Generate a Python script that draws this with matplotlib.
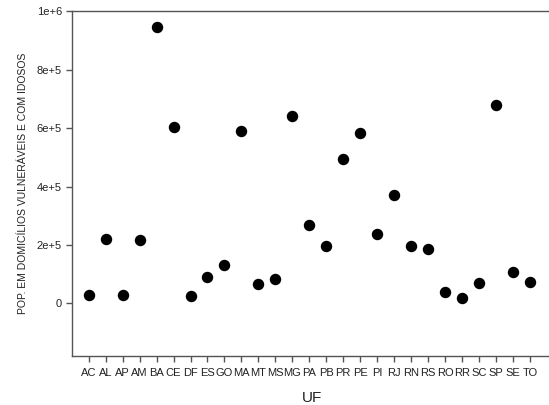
import matplotlib
matplotlib.use("Agg")
import matplotlib.pyplot as plt

plt.rcParams.update({"font.family": ["Liberation Sans", "DejaVu Sans"]})

ufs = ["AC", "AL", "AP", "AM", "BA", "CE", "DF", "ES", "GO", "MA", "MT", "MS", "MG", "PA",
       "PB", "PR", "PE", "PI", "RJ", "RN", "RS", "RO", "RR", "SC", "SP", "SE", "TO"]
pop = [28000, 219000, 30000, 217000, 947000, 603000, 27000, 89000, 131000, 592000, 66000,
       82000, 642000, 268000, 196000, 494000, 582000, 236000, 370000, 195000, 185000,
       38000, 19000, 70000, 679000, 107000, 73000]
yticks = [0, 2e5, 4e5, 6e5, 8e5, 1e6]
ytick_labels = ["0", "2e+5", "4e+5", "6e+5", "8e+5", "1e+6"]

fig = plt.figure(figsize=(5.49, 4.05), dpi=100)
ax = fig.add_axes([0.1306, 0.121, 0.875, 0.851])
x = range(len(ufs))
ax.scatter(x, pop, s=52, color="black", zorder=3)

ax.set_xlim(-1, len(ufs) + 0.3)
ax.set_ylim(-180000, 1e6)
ax.set_xticks(list(x))
ax.set_xticklabels(ufs, fontsize=8, color="#222")
ax.set_yticks(yticks)
ax.set_yticklabels(ytick_labels, fontsize=8, color="#222")
ax.tick_params(direction="out", length=4, width=1, color="#555")
ax.tick_params(axis="x", pad=5)
ax.tick_params(axis="y", pad=3)

for side in ["left", "bottom", "top"]:
    ax.spines[side].set_color("#555")
    ax.spines[side].set_linewidth(1)
ax.spines["right"].set_visible(False)

ax.set_xlabel("UF", fontsize=11, color="#222", labelpad=9)
ax.set_ylabel("POP. EM DOMICÍLIOS VULNERÁVEIS E COM IDOSOS", fontsize=7.5, color="#222", labelpad=6)

fig.savefig("out.png", dpi=100)
